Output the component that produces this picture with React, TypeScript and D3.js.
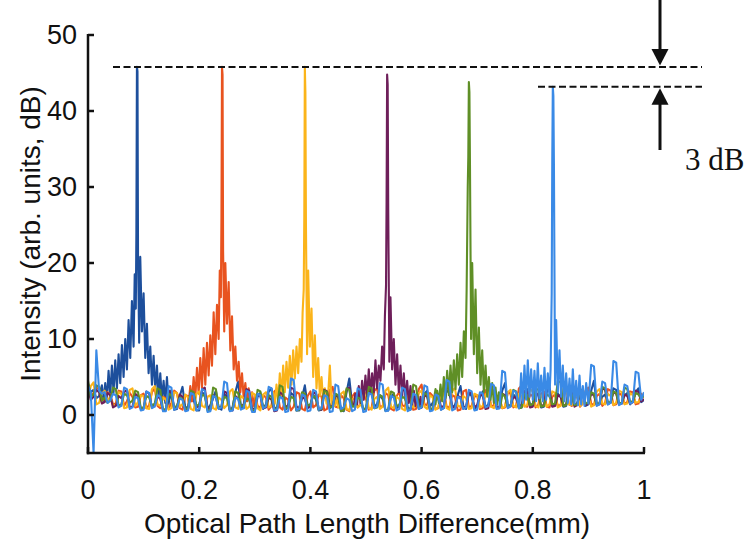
import React from "react";
import * as d3 from "d3";

// ---- data ----
const X_TICKS = [0, 0.2, 0.4, 0.6, 0.8, 1];
const Y_TICKS = [0, 10, 20, 30, 40, 50];
const SERIES_NAMES = ["s1", "s2", "s3", "s4", "s5", "s6"];
const SERIES_COLORS = ["#1d4f9c", "#e8531f", "#fbb41a", "#6e1f5a", "#5f8f26", "#3a8ae6"];
const PEAK_CENTERS = [0.088, 0.241, 0.39, 0.538, 0.685, 0.836];
const REF_LEVEL_HIGH = 45.8;
const REF_LEVEL_LOW = 43.2;
const ANNOTATION = "3 dB";

// offsets (mm) of the detailed samples around each peak
const PEAK_OFFSETS = [-0.06, -0.057, -0.054, -0.051, -0.048, -0.045, -0.042, -0.039, -0.036, -0.033, -0.03, -0.027, -0.024, -0.021, -0.018, -0.015, -0.012, -0.009, -0.006, -0.004, -0.002, -0.001, 0, 0.001, 0.002, 0.004, 0.006, 0.009, 0.012, 0.015, 0.018, 0.021, 0.024, 0.027, 0.03, 0.033, 0.036, 0.039, 0.042, 0.045, 0.048, 0.051, 0.054, 0.057, 0.06];

const PEAK_S1 = [1.8, 4.2, 2.0, 5.8, 2.6, 6.5, 3.0, 7.2, 3.5, 8.0, 4.2, 9.2, 5.0, 10.0, 6.0, 12.5, 7.5, 15.0, 9.0, 18.5, 14.0, 24.0, 45.8, 45.2, 21.0, 9.5, 20.8, 11.0, 16.0, 7.5, 12.0, 5.5, 9.0, 4.0, 7.8, 3.2, 6.5, 2.4, 5.5, 2.0, 4.5, 1.6, 5.0, 1.4, 3.2];
const PEAK_S2 = [1.5, 3.8, 1.8, 5.0, 2.2, 6.2, 2.8, 7.5, 3.5, 8.8, 4.0, 9.5, 5.2, 10.5, 6.5, 13.5, 8.0, 14.5, 10.0, 19.0, 15.5, 26.0, 45.8, 44.8, 21.5, 11.0, 20.0, 12.0, 17.5, 8.5, 13.0, 6.0, 9.0, 4.5, 7.0, 3.0, 5.5, 2.2, 4.2, 1.8, 3.5, 1.5, 3.0, 1.2, 2.6];
const PEAK_S3 = [1.2, 3.0, 1.5, 4.0, 1.8, 5.5, 2.4, 6.5, 3.0, 7.0, 3.6, 7.8, 4.0, 8.5, 4.8, 9.0, 5.5, 10.0, 7.0, 13.5, 16.5, 26.0, 45.8, 42.5, 25.0, 8.0, 19.0, 9.0, 14.0, 5.0, 10.5, 3.5, 7.5, 2.5, 5.0, 1.8, 3.5, 1.5, 2.8, 6.5, 1.4, 2.6, 1.2, 2.2, 1.0];
const PEAK_S4 = [1.2, 2.8, 1.4, 3.8, 1.6, 4.5, 2.0, 5.2, 2.4, 6.0, 2.8, 5.5, 3.0, 7.2, 3.5, 6.5, 4.5, 9.0, 6.0, 13.0, 17.0, 28.0, 44.8, 43.5, 27.0, 7.0, 15.5, 6.0, 10.0, 4.0, 8.0, 3.0, 6.5, 2.4, 5.5, 2.0, 4.5, 1.6, 3.8, 1.4, 3.2, 1.2, 2.8, 1.0, 2.4];
const PEAK_S5 = [1.4, 3.2, 1.6, 4.0, 1.8, 5.0, 2.2, 5.8, 2.6, 6.5, 3.0, 7.2, 3.4, 8.0, 4.0, 9.5, 5.0, 11.0, 7.5, 16.5, 30.0, 34.0, 43.8, 42.5, 33.0, 10.0, 20.0, 8.0, 16.5, 5.5, 11.5, 4.0, 8.5, 3.0, 6.5, 2.4, 5.0, 2.0, 4.2, 1.6, 3.6, 1.4, 3.0, 1.2, 2.8];
const PEAK_S6 = [1.2, 5.5, 1.6, 6.5, 2.0, 7.2, 2.4, 6.0, 2.0, 5.8, 1.8, 6.8, 2.2, 5.2, 1.8, 6.2, 2.0, 5.5, 2.4, 6.0, 16.0, 33.5, 43.2, 42.0, 33.0, 4.0, 12.5, 3.0, 8.5, 2.4, 6.5, 1.8, 5.5, 1.6, 4.8, 1.4, 6.0, 1.5, 4.5, 1.3, 5.2, 1.4, 3.8, 1.2, 4.2];

// background samples, evenly spaced over 0..1 mm
const NOISE_S1 = [
  4.1, 3.0, 3.3, 2.2, 2.5, 3.9, 3.6, 1.8, 2.2, 3.2, 3.0, 1.5, 1.9, 3.4, 2.8, 1.2, 1.6, 2.9, 3.4, 1.0,
  1.2, 3.1, 2.6, 0.8, 0.9, 2.7, 3.1, 1.0, 1.4, 3.3, 2.3, 0.7, 0.8, 2.5, 3.7, 0.9, 1.1, 2.6, 2.0, 0.6,
  0.6, 3.0, 2.7, 0.8, 1.3, 2.2, 3.2, 0.9, 0.7, 2.8, 2.4, 0.6, 1.0, 3.0, 4.4, 1.1, 0.9, 2.5, 2.1, 0.5,
  0.5, 2.4, 2.9, 0.8, 1.4, 3.1, 3.5, 1.0, 0.8, 2.6, 2.2, 0.7, 1.1, 2.9, 2.6, 0.6, 0.6, 2.3, 3.9, 1.2,
  1.3, 2.7, 2.0, 0.6, 0.7, 3.4, 3.0, 0.9, 1.2, 2.4, 2.5, 0.6, 0.5, 3.0, 4.8, 1.5, 1.0, 2.8, 2.3, 0.7,
  0.8, 2.9, 3.3, 1.0, 1.5, 2.6, 2.1, 0.6, 0.6, 2.4, 2.8, 0.9, 1.2, 3.1, 3.6, 1.0, 0.7, 2.2, 2.4, 0.8,
  1.0, 2.8, 3.2, 1.1, 1.6, 2.5, 2.2, 0.7, 0.9, 3.3, 2.9, 1.0, 1.3, 2.6, 3.8, 1.2, 0.8, 2.9, 2.5, 0.8,
  1.1, 2.4, 3.1, 1.0, 1.4, 3.0, 2.7, 0.9, 0.9, 3.2, 4.2, 1.3, 1.2, 2.7, 2.3, 0.9, 1.0, 2.6, 3.4, 1.2,
  1.5, 2.9, 2.6, 1.0, 1.1, 3.0, 3.7, 1.2, 1.3, 2.8, 2.4, 1.1, 1.2, 3.2, 3.0, 1.3, 1.6, 2.5, 2.8, 1.2,
  1.4, 3.2, 4.5, 1.5, 1.5, 2.4, 2.7, 1.4, 1.7, 3.5, 3.3, 1.5, 1.6, 2.6, 2.9, 1.4, 1.8, 3.0, 3.5, 1.7,
  2.0,
];
const NOISE_S2 = [
  3.8, 2.5, 2.9, 3.6, 3.4, 1.9, 2.0, 3.0, 2.7, 1.4, 1.5, 3.2, 3.1, 1.2, 1.8, 2.9, 2.4, 1.0, 1.1, 2.6,
  2.8, 0.9, 1.3, 3.0, 3.5, 1.2, 0.9, 2.4, 2.2, 0.8, 1.6, 3.2, 2.9, 0.9, 0.7, 2.6, 2.5, 0.8, 1.2, 3.4,
  3.0, 1.1, 1.0, 2.8, 2.6, 0.7, 0.8, 3.0, 3.3, 1.0, 1.4, 2.5, 2.1, 0.6, 0.6, 2.9, 2.7, 0.9, 1.5, 3.3,
  3.6, 1.2, 0.9, 2.6, 2.3, 0.7, 1.2, 3.1, 3.4, 1.0, 0.7, 2.3, 2.0, 0.6, 1.1, 3.0, 2.8, 0.8, 0.6, 2.5,
  3.1, 1.0, 1.3, 2.7, 2.4, 0.6, 0.8, 3.3, 3.7, 1.1, 1.0, 2.6, 2.2, 0.7, 0.5, 2.4, 2.9, 1.0, 1.4, 2.8,
  2.1, 0.7, 0.9, 3.2, 3.5, 1.0, 1.2, 2.9, 2.6, 0.8, 0.6, 2.5, 3.0, 1.3, 1.1, 2.7, 2.3, 0.7, 0.8, 3.4,
  4.0, 1.4, 1.3, 2.9, 2.5, 0.8, 0.9, 3.0, 3.2, 1.1, 1.0, 2.6, 2.4, 0.6, 0.7, 3.1, 3.3, 1.0, 1.2, 2.4,
  2.6, 0.8, 0.9, 3.2, 3.5, 1.1, 1.3, 2.5, 2.2, 0.9, 1.0, 3.0, 2.8, 1.0, 1.2, 3.5, 3.9, 1.2, 1.1, 2.7,
  2.5, 1.0, 1.4, 2.8, 3.1, 1.1, 1.0, 2.4, 2.7, 1.2, 1.3, 3.0, 3.4, 1.4, 1.2, 2.6, 2.3, 1.1, 1.5, 3.2,
  3.6, 1.5, 1.3, 2.5, 2.8, 1.2, 1.6, 3.4, 3.2, 1.3, 1.4, 2.9, 2.6, 1.5, 1.7, 3.1, 3.0, 1.4, 1.5, 2.8,
  2.4,
];
const NOISE_S3 = [
  2.2, 3.8, 4.3, 1.4, 1.6, 2.8, 3.2, 1.9, 2.4, 1.2, 1.3, 3.0, 2.8, 0.9, 1.0, 3.3, 3.5, 1.2, 1.7, 2.6,
  2.5, 0.9, 0.8, 3.4, 3.8, 1.4, 1.2, 2.3, 2.0, 0.7, 0.9, 3.0, 2.9, 1.1, 1.4, 2.7, 2.3, 0.8, 0.6, 2.8,
  3.1, 1.2, 1.0, 2.4, 2.6, 0.9, 0.7, 2.3, 2.0, 0.9, 1.3, 3.1, 3.4, 1.0, 0.8, 2.5, 2.2, 0.8, 1.1, 2.9,
  2.7, 0.9, 0.6, 2.7, 3.0, 1.0, 1.2, 3.6, 4.0, 1.2, 0.9, 2.2, 2.4, 0.9, 0.7, 2.6, 2.8, 1.1, 1.4, 2.5,
  2.1, 0.7, 0.5, 3.0, 3.3, 1.2, 1.0, 2.2, 2.5, 0.9, 0.8, 2.8, 3.1, 0.8, 0.6, 2.0, 2.3, 1.0, 1.3, 3.0,
  2.9, 0.9, 0.7, 2.1, 2.4, 0.8, 1.1, 3.2, 3.6, 1.1, 0.9, 2.4, 2.1, 0.8, 0.6, 2.5, 2.7, 1.0, 1.2, 2.9,
  3.2, 1.1, 0.8, 2.6, 2.3, 0.7, 1.0, 3.0, 2.8, 0.9, 0.7, 3.2, 3.5, 1.2, 1.1, 2.5, 2.2, 0.8, 0.9, 2.8,
  2.6, 1.0, 1.2, 2.7, 3.0, 1.1, 0.9, 2.2, 2.4, 0.9, 1.1, 3.0, 3.3, 1.2, 1.0, 2.8, 2.5, 1.1, 1.3, 3.4,
  3.1, 1.2, 1.0, 2.6, 2.2, 1.1, 1.4, 3.1, 2.9, 1.0, 1.2, 3.5, 3.8, 1.4, 1.3, 2.7, 2.4, 1.2, 1.5, 3.0,
  2.8, 1.1, 1.3, 3.1, 3.4, 1.5, 1.4, 2.8, 2.5, 1.3, 1.6, 3.2, 3.0, 1.4, 1.5, 2.9, 2.6, 1.6, 1.7, 2.5,
  2.3,
];
const NOISE_S4 = [
  3.5, 2.0, 2.4, 3.3, 3.0, 1.5, 1.7, 2.9, 2.6, 1.0, 1.2, 2.5, 2.2, 3.0, 3.3, 1.0, 1.1, 2.8, 2.5, 0.8,
  0.9, 3.1, 2.8, 1.0, 1.3, 2.5, 2.1, 0.6, 0.7, 3.2, 3.0, 0.9, 1.0, 2.7, 2.4, 0.7, 0.8, 3.0, 2.7, 1.0,
  1.2, 3.3, 3.6, 0.9, 0.7, 2.6, 2.3, 0.9, 1.1, 3.1, 2.9, 0.7, 0.6, 2.5, 2.2, 1.1, 1.4, 3.4, 3.2, 0.9,
  0.8, 2.8, 2.5, 0.9, 1.0, 2.3, 2.0, 0.5, 0.6, 3.0, 2.7, 1.0, 1.3, 3.6, 3.4, 1.1, 0.9, 2.4, 2.1, 0.9,
  1.1, 3.0, 2.8, 0.8, 0.7, 3.3, 3.1, 1.0, 1.2, 2.6, 2.4, 0.8, 0.9, 3.3, 3.6, 1.2, 1.0, 2.4, 2.2, 0.7,
  0.8, 2.9, 2.6, 1.0, 1.3, 3.2, 3.0, 0.9, 0.7, 2.5, 2.3, 0.9, 1.1, 3.1, 2.9, 0.7, 0.9, 3.5, 3.3, 1.2,
  1.0, 2.6, 2.4, 0.7, 0.8, 2.9, 2.7, 1.0, 1.2, 3.6, 3.5, 1.1, 0.9, 2.5, 2.3, 0.8, 1.1, 3.0, 2.8, 1.0,
  1.3, 2.8, 2.5, 0.8, 0.9, 3.4, 3.2, 1.1, 1.0, 2.8, 2.6, 1.0, 1.2, 2.4, 2.2, 1.1, 1.4, 3.2, 3.0, 1.0,
  1.1, 2.9, 2.7, 1.2, 1.3, 3.5, 3.4, 1.1, 1.2, 2.6, 2.4, 1.2, 1.4, 3.1, 2.9, 1.1, 1.3, 3.3, 3.1, 1.3,
  1.5, 2.8, 2.6, 1.3, 1.4, 3.5, 3.3, 1.5, 1.6, 3.0, 2.8, 1.4, 1.5, 2.7, 2.5, 1.5, 1.7, 3.2, 3.0, 1.8,
  2.1,
];
const NOISE_S5 = [
  4.5, 2.4, 2.7, 3.9, 3.7, 1.9, 2.3, 1.6, 1.9, 3.6, 3.4, 1.2, 1.4, 2.8, 2.6, 1.6, 1.9, 3.2, 3.0, 0.9,
  1.0, 2.5, 2.3, 1.2, 1.5, 3.5, 3.3, 0.7, 0.8, 2.8, 2.6, 1.0, 1.2, 2.3, 2.1, 0.8, 0.9, 3.2, 3.0, 1.2,
  1.4, 2.7, 2.5, 0.6, 0.7, 3.6, 3.4, 0.9, 1.1, 2.4, 2.2, 0.7, 0.8, 3.1, 2.9, 1.1, 1.3, 2.2, 2.0, 0.6,
  0.6, 3.3, 3.1, 1.0, 1.2, 2.6, 2.4, 0.8, 0.9, 3.9, 3.7, 0.9, 1.0, 2.4, 2.2, 0.6, 0.7, 3.0, 2.8, 1.2,
  1.4, 2.5, 2.3, 0.7, 0.8, 3.2, 3.0, 1.0, 1.1, 2.8, 2.6, 0.5, 0.6, 3.5, 3.3, 1.1, 1.2, 2.3, 2.1, 0.8,
  0.9, 3.7, 3.5, 0.9, 1.0, 2.6, 2.4, 0.6, 0.7, 3.1, 2.9, 1.2, 1.3, 2.4, 2.2, 0.7, 0.8, 4.0, 3.8, 1.0,
  1.1, 2.9, 2.7, 0.8, 0.9, 3.4, 3.2, 1.3, 1.4, 2.5, 2.3, 0.9, 1.0, 3.0, 2.8, 1.1, 1.2, 3.2, 3.0, 0.8,
  0.9, 2.7, 2.5, 1.2, 1.3, 3.8, 3.6, 1.0, 1.1, 2.6, 2.4, 1.1, 1.2, 3.3, 3.1, 0.9, 1.0, 2.8, 2.6, 1.3,
  1.4, 3.5, 3.3, 1.1, 1.2, 2.7, 2.5, 1.4, 1.5, 4.5, 4.3, 1.2, 1.3, 2.9, 2.7, 1.3, 1.4, 3.4, 3.2, 1.5,
  1.6, 3.0, 2.8, 1.4, 1.5, 3.7, 3.5, 1.6, 1.7, 3.1, 2.9, 1.5, 1.6, 3.6, 3.4, 1.7, 1.8, 2.9, 2.7, 2.2,
  2.5,
];
const NOISE_S6 = [
  3.9, 3.0, -5.0, 8.5, 3.2, 2.8, 3.0, 1.6, 1.9, 2.8, 2.6, 1.0, 1.2, 3.6, 3.4, 0.8, 1.0, 2.4, 2.2, 0.6,
  0.7, 3.1, 2.9, 0.9, 1.1, 2.6, 2.4, 0.5, 0.5, 3.8, 3.6, 0.7, 0.9, 2.2, 2.0, 0.5, 0.6, 2.9, 2.7, 0.6,
  0.8, 3.4, 3.2, 0.4, 0.5, 2.5, 2.3, 0.8, 1.0, 4.4, 4.2, 0.5, 0.6, 2.3, 2.1, 0.7, 0.9, 3.2, 3.0, 0.4,
  0.4, 2.8, 2.6, 0.9, 1.1, 3.7, 3.5, 0.6, 0.7, 2.4, 2.2, 0.4, 0.5, 4.8, 4.6, 0.6, 0.8, 2.7, 2.5, 0.5,
  0.6, 3.3, 3.1, 0.7, 0.9, 2.6, 2.4, 0.4, 0.5, 4.0, 3.8, 0.8, 1.0, 2.2, 2.0, 0.5, 0.7, 3.5, 3.3, 0.4,
  0.5, 2.9, 2.7, 0.9, 1.1, 4.2, 4.0, 0.5, 0.6, 2.5, 2.3, 0.6, 0.8, 3.6, 3.4, 0.5, 0.7, 2.8, 2.6, 0.8,
  1.0, 3.9, 3.7, 0.5, 0.6, 2.7, 2.5, 0.7, 0.9, 4.6, 4.4, 0.6, 0.8, 2.4, 2.2, 0.8, 1.0, 3.3, 3.1, 0.6,
  0.7, 3.0, 2.8, 1.0, 1.2, 4.1, 3.9, 0.8, 0.9, 5.8, 5.6, 0.9, 1.1, 3.2, 3.0, 0.9, 1.0, 5.0, 4.8, 1.1,
  1.3, 7.0, 6.8, 1.0, 1.2, 4.7, 4.5, 1.2, 1.4, 3.8, 3.6, 1.1, 1.3, 6.1, 5.9, 1.0, 1.2, 3.4, 3.2, 1.3,
  1.5, 6.6, 6.4, 1.2, 1.4, 4.4, 4.2, 1.4, 1.6, 7.1, 6.9, 1.3, 1.5, 4.0, 3.8, 1.5, 1.7, 5.7, 5.5, 2.0,
  3.0,
];

const NOISE = [NOISE_S1, NOISE_S2, NOISE_S3, NOISE_S4, NOISE_S5, NOISE_S6];
const PEAKS = [PEAK_S1, PEAK_S2, PEAK_S3, PEAK_S4, PEAK_S5, PEAK_S6];

// ---- layout ----
const W = 756;
const H = 542;
const LEFT = 88;
const RIGHT = 644;
const TOP = 35;
const BOTTOM = 453;
const SANS = "'Liberation Sans', Arial, Helvetica, sans-serif";
const SERIF = "'Liberation Serif', 'Times New Roman', serif";

type Pt = [number, number];

function buildSeries(k: number): Pt[] {
  const noise = NOISE[k];
  const c = PEAK_CENTERS[k];
  const halfWin = PEAK_OFFSETS[PEAK_OFFSETS.length - 1];
  const pts: Pt[] = [];
  noise.forEach((v, i) => {
    const x = i / (noise.length - 1);
    if (Math.abs(x - c) > halfWin) pts.push([x, v]);
  });
  PEAK_OFFSETS.forEach((o, i) => pts.push([c + o, PEAKS[k][i]]));
  pts.sort((a, b) => a[0] - b[0]);
  return pts;
}

export default function App() {
  const x = d3.scaleLinear().domain([0, 1]).range([LEFT, RIGHT]);
  const y = d3.scaleLinear().domain([-5, 50]).range([BOTTOM, TOP]);
  const line = d3
    .line<Pt>()
    .x((d) => x(d[0]))
    .y((d) => y(d[1]));

  const yHigh = y(REF_LEVEL_HIGH);
  const yLow = y(REF_LEVEL_LOW);
  const arrowX = 660;

  return (
    <div style={{ position: "absolute", left: 0, top: 0 }}>
      <svg width={W} height={H} viewBox={`0 0 ${W} ${H}`} style={{ display: "block", background: "#fff" }}>
        <defs>
          <clipPath id="plot">
            <rect x={LEFT} y={TOP - 5} width={RIGHT - LEFT} height={BOTTOM - TOP + 5} />
          </clipPath>
        </defs>

        {/* series */}
        <g clipPath="url(#plot)">
          {SERIES_NAMES.map((name, k) => (
            <path
              key={name}
              d={line(buildSeries(k)) || ""}
              fill="none"
              stroke={SERIES_COLORS[k]}
              strokeWidth={2.1}
              strokeLinejoin="round"
            />
          ))}
        </g>

        {/* axes */}
        <g stroke="#111" strokeWidth={2.5} fill="none">
          <line x1={LEFT} y1={TOP - 1} x2={LEFT} y2={BOTTOM + 1.2} />
          <line x1={LEFT - 1.2} y1={BOTTOM} x2={RIGHT + 1} y2={BOTTOM} />
          {Y_TICKS.map((t) => (
            <line key={"yt" + t} x1={LEFT} x2={LEFT + 6} y1={y(t)} y2={y(t)} />
          ))}
          {X_TICKS.map((t) => (
            <line key={"xt" + t} x1={x(t)} x2={x(t)} y1={BOTTOM} y2={BOTTOM - 6} />
          ))}
        </g>

        {/* tick labels */}
        <g fontFamily={SANS} fontSize={27} fill="#111">
          {Y_TICKS.map((t) => (
            <text key={"yl" + t} x={LEFT - 11} y={y(t)} textAnchor="end" dominantBaseline="central">
              {t}
            </text>
          ))}
          {X_TICKS.map((t) => (
            <text key={"xl" + t} x={x(t)} y={490} textAnchor="middle" dominantBaseline="central">
              {d3.format("~g")(t)}
            </text>
          ))}
        </g>

        {/* axis titles */}
        <text
          x={(LEFT + RIGHT) / 2 + 1}
          y={523}
          textAnchor="middle"
          dominantBaseline="central"
          fontFamily={SANS}
          fontSize={28}
          fill="#111"
        >
          Optical Path Length Difference(mm)
        </text>
        <text
          transform={`translate(30, ${234}) rotate(-90)`}
          textAnchor="middle"
          dominantBaseline="central"
          fontFamily={SANS}
          fontSize={28}
          fill="#111"
        >
          Intensity (arb. units, dB)
        </text>

        {/* reference dashed lines */}
        <g stroke="#111" strokeWidth={2} strokeDasharray="7 3.5">
          <line x1={113} x2={702} y1={yHigh} y2={yHigh} />
          <line x1={538} x2={702} y1={yLow} y2={yLow} />
        </g>

        {/* arrows */}
        <g fill="#111" stroke="#111">
          <line x1={arrowX} x2={arrowX} y1={0} y2={yHigh - 15} strokeWidth={3} />
          <path d={`M${arrowX - 8.5},${yHigh - 18} L${arrowX + 8.5},${yHigh - 18} L${arrowX},${yHigh - 1.5} Z`} stroke="none" />
          <line x1={arrowX} x2={arrowX} y1={yLow + 15} y2={150} strokeWidth={3} />
          <path d={`M${arrowX - 8.5},${yLow + 18} L${arrowX + 8.5},${yLow + 18} L${arrowX},${yLow + 1.5} Z`} stroke="none" />
        </g>
        <text x={685} y={170} fontFamily={SERIF} fontSize={31} fill="#111">
          {ANNOTATION}
        </text>
      </svg>
    </div>
  );
}
